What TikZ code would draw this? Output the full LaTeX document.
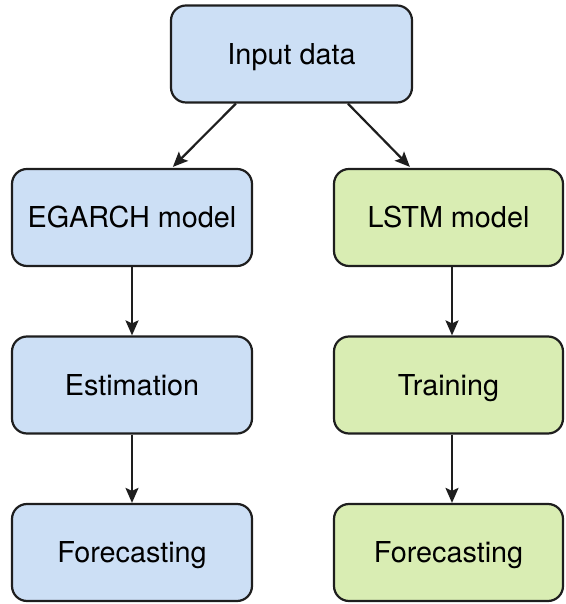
\documentclass[tikz,border=0pt]{standalone}
\usepackage{fontspec}
\setmainfont{TeX Gyre Heros}
\usetikzlibrary{arrows.meta,calc}
\definecolor{boxblue}{HTML}{CCDFF5}
\definecolor{boxgreen}{HTML}{D9EDB3}
\definecolor{edge}{HTML}{1E1E1E}
\begin{document}
\begin{tikzpicture}[x=1pt,y=1pt,
  box/.style={draw=edge,line width=2.2pt,rounded corners=15pt,minimum height=97pt,inner sep=0pt,text height=20.5pt,text depth=0pt,font=\fontsize{28.8}{34}\selectfont},
  bluebox/.style={box,fill=boxblue,minimum width=240pt},
  greenbox/.style={box,fill=boxgreen,minimum width=229pt},
  arr/.style={draw=edge,line width=2.2pt,-{Stealth[length=15pt,width=13pt,inset=3pt]}}]
\useasboundingbox (0,0) rectangle (565,604);
\node[box,fill=boxblue,minimum width=241pt,minimum height=97pt] (in) at (291.5,550) {Input data};
\node[bluebox] (eg) at (132,386.5) {EGARCH model};
\node[bluebox] (es) at (132,219) {Estimation};
\node[bluebox] (fl) at (132,51.5) {Forecasting};
\node[greenbox] (ls) at (448.5,386.5) {LSTM model};
\node[greenbox] (tr) at (448.5,219) {Training};
\node[greenbox] (fr) at (448.5,51.5) {Forecasting};
\draw[arr] ($(in.south west)+(66,0)$) -- ($(eg.north west)+(162,1)$);
\draw[arr] ($(in.south west)+(178,0)$) -- ($(ls.north west)+(77,1)$);
\draw[arr] (eg) -- (es);
\draw[arr] (es) -- (fl);
\draw[arr] (ls.south -| 452,0) -- (tr.north -| 452,0);
\draw[arr] (tr.south -| 452,0) -- (fr.north -| 452,0);
\end{tikzpicture}
\end{document}
